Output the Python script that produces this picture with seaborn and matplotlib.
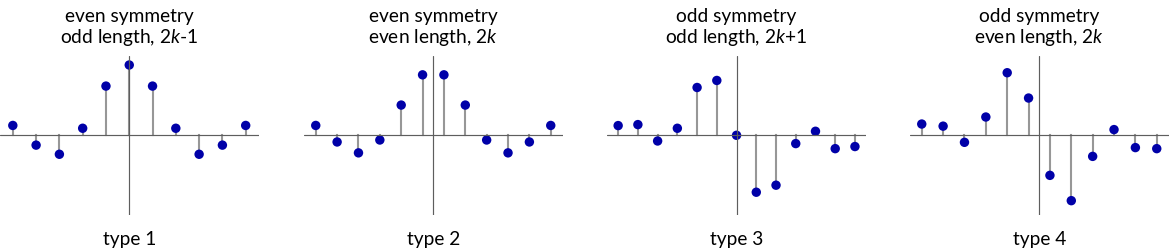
import numpy as np
import pandas as pd
import matplotlib
matplotlib.use("Agg")
import matplotlib.pyplot as plt
import seaborn as sns

# ---- data ----
titles = [
    "even symmetry\nodd length, 2$\\mathit{k}$-1",
    "even symmetry\neven length, 2$\\mathit{k}$",
    "odd symmetry\nodd length, 2$\\mathit{k}$+1",
    "odd symmetry\neven length, 2$\\mathit{k}$",
]
labels = ["type 1", "type 2", "type 3", "type 4"]

h_type1 = [0.14, -0.14, -0.27, 0.10, 0.70, 1.00, 0.70, 0.10, -0.27, -0.14, 0.14]
h_type2 = [0.14, -0.095, -0.25, -0.067, 0.43, 0.86, 0.86, 0.43, -0.067, -0.25, -0.095, 0.14]
h_type3 = [0.138, 0.152, -0.081, 0.10, 0.68, 0.78, 0.0, -0.81, -0.71, -0.118, 0.057, -0.19, -0.16]
h_type4 = [0.16, 0.13, -0.10, 0.26, 0.89, 0.53, -0.57, -0.93, -0.30, 0.081, -0.175, -0.19]
series = [h_type1, h_type2, h_type3, h_type4]

sns.set_style("white")
plt.rcParams["font.family"] = ["Lato", "DejaVu Sans"]
plt.rcParams["mathtext.fontset"] = "custom"
plt.rcParams["mathtext.it"] = "Lato:italic"
plt.rcParams["mathtext.rm"] = "Lato"

fig = plt.figure(figsize=(11.7, 2.52), dpi=100)
lefts = [0.0, 304 / 1170, 607.3 / 1170, 910 / 1170]
width = 258.5 / 1170
bottom = (252 - 215) / 252
height = 159 / 252

for i, h in enumerate(series):
    ax = fig.add_axes([lefts[i], bottom, width, height])
    N = len(h)
    n = np.arange(N) - (N - 1) / 2
    df = pd.DataFrame({"n": n, "h": h})
    ax.vlines(df["n"], 0, df["h"], color="#979797", linewidth=1.5,
              capstyle="projecting", zorder=2)
    sns.scatterplot(data=df, x="n", y="h", ax=ax, color="#0000a8", s=46,
                    edgecolor="none", linewidth=0, zorder=3, legend=False)
    ax.axhline(0, color="#5e5e5e", linewidth=0.85, zorder=4)
    ax.axvline(0, color="#5e5e5e", linewidth=0.85, zorder=4)
    half = N / 2 + 0.05
    ax.set_xlim(-half, half)
    ax.set_ylim(-1.134, 1.128)
    for s in ax.spines.values():
        s.set_visible(False)
    ax.set_xticks([])
    ax.set_yticks([])
    ax.set_xlabel("")
    ax.set_ylabel("")
    ax.patch.set_alpha(0)
    ax.annotate(titles[i], xy=(0.5, 1.0), xycoords="axes fraction",
                xytext=(0, 8), textcoords="offset pixels",
                ha="center", va="bottom", fontsize=13.8, color="black",
                linespacing=1.15)
    ax.annotate(labels[i], xy=(0.5, 0.0), xycoords="axes fraction",
                xytext=(0, -16), textcoords="offset pixels",
                ha="center", va="top", fontsize=13.8, color="black")

fig.savefig("out.png", dpi=100)
